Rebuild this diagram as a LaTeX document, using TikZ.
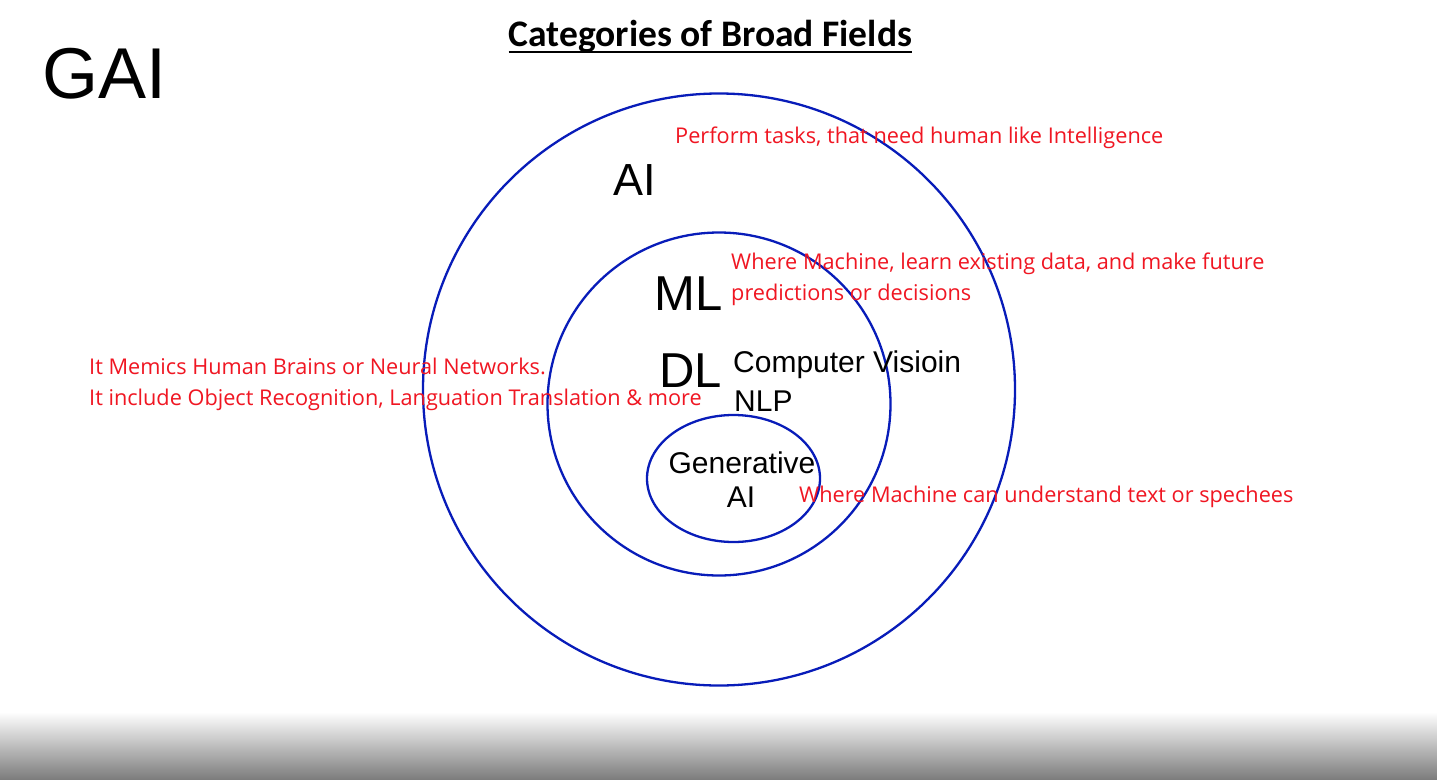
\documentclass[tikz,border=0pt]{standalone}
\usepackage{fontspec}
\usetikzlibrary{shapes.geometric}
\setmainfont{Liberation Sans}
\newfontfamily\arialf{Liberation Sans}
\newfontfamily\calib{Carlito}
\newfontfamily\segoe{Open Sans}
\definecolor{ringblue}{RGB}{8,28,185}
\definecolor{notered}{RGB}{240,22,34}
\definecolor{bandgray}{RGB}{125,125,125}
\begin{document}
\begin{tikzpicture}[x=1pt,y=-1pt,
  ring/.style={draw=ringblue,line width=2.3pt},
  big/.style={inner sep=0pt,anchor=base west,font=\arialf\fontsize{49}{55}\selectfont},
  mid/.style={inner sep=0pt,anchor=base west,font=\arialf\fontsize{30}{34}\selectfont},
  note/.style={inner sep=0pt,anchor=base west,text=notered,font=\segoe\fontsize{21.7}{31}\selectfont,align=left}]
\useasboundingbox (0,0) rectangle (1437,779);
\fill[white] (0,0) rectangle (1437,779);
\shade[top color=white,bottom color=bandgray] (0,712) rectangle (1437,779);
% rings
\node[ring,circle,minimum size=592pt,inner sep=0pt] (ai) at (719,389.5) {};
\node[ring,circle,minimum size=343pt,inner sep=0pt] (ml) at (719,404) {};
\node[ring,ellipse,minimum width=173pt,minimum height=127pt,inner sep=0pt] (gen) at (733.5,478.5) {};
% title
\node[inner sep=0pt,anchor=base,font=\calib\bfseries\fontsize{37.5}{40}\selectfont] (title) at (710.5,46) {Categories of Broad Fields};
\draw[line width=2pt] ([yshift=-6pt]title.base west) -- ([yshift=-6pt]title.base east);
% labels
\node[inner sep=0pt,anchor=base west,font=\arialf\fontsize{72}{78}\selectfont] (gai) at (42,98) {GAI};
\node[inner sep=0pt,anchor=base west,font=\arialf\fontsize{45}{50}\selectfont] (ailab) at (613,195) {AI};
\node[big] (mllab) at (654,310) {ML};
\node[big] (dllab) at (659,387) {DL};
\node[mid] (cv) at (733,372) {Computer Visioin};
\node[mid] (nlp) at (734,411) {NLP};
\node[mid,anchor=base] (genlab) at (742,473) {Generative};
\node[mid,anchor=base] (genai) at (741,507) {AI};
% notes
\node[note] (n1) at (675,143) {Perform tasks, that need human like Intelligence};
\node[note] (n2) at (731,300) {Where Machine, learn existing data, and make future\\predictions or decisions};
\node[note] (n3) at (89,405) {It Memics Human Brains or Neural Networks.\\It include Object Recognition, Languation Translation \& more};
\node[note] (n4) at (799,502) {Where Machine can understand text or spechees};
\end{tikzpicture}
\end{document}
